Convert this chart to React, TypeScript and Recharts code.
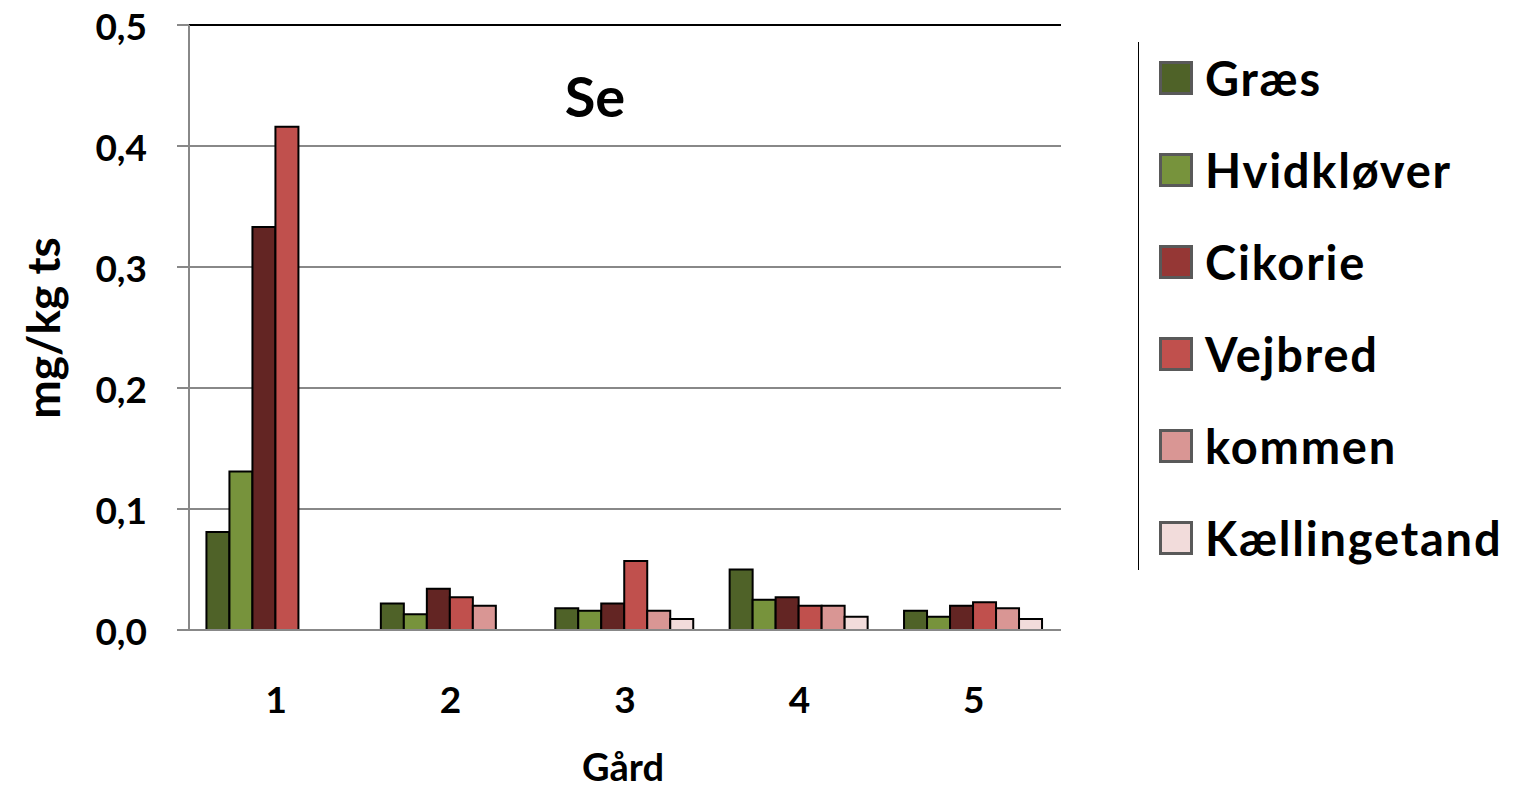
import React from 'react';
import { BarChart, Bar, XAxis, YAxis, CartesianGrid, ReferenceLine, Legend } from 'recharts';

const categories = ['1', '2', '3', '4', '5'];
const graes = [0.081, 0.022, 0.018, 0.05, 0.016];
const hvidklover = [0.131, 0.013, 0.016, 0.025, 0.011];
const cikorie = [0.333, 0.034, 0.022, 0.027, 0.02];
const vejbred = [0.416, 0.027, 0.057, 0.02, 0.023];
const kommen = [null, 0.02, 0.016, 0.02, 0.018];
const kaellingetand = [null, null, 0.009, 0.011, 0.009];
const yTicks = [0, 0.1, 0.2, 0.3, 0.4, 0.5];

const seriesDefs = [
  { key: 'graes', name: 'Græs', values: graes, fill: '#4F6228', legend: '#4F6228' },
  { key: 'hvidklover', name: 'Hvidkløver', values: hvidklover, fill: '#77933C', legend: '#77933C' },
  { key: 'cikorie', name: 'Cikorie', values: cikorie, fill: '#632523', legend: '#953735' },
  { key: 'vejbred', name: 'Vejbred', values: vejbred, fill: '#C0504D', legend: '#C0504D' },
  { key: 'kommen', name: 'kommen', values: kommen, fill: '#D99694', legend: '#D99694' },
  { key: 'kaellingetand', name: 'Kællingetand', values: kaellingetand, fill: '#F2DCDB', legend: '#F2DCDB' },
];

const data = categories.map((c, i) => {
  const row: any = { name: c };
  seriesDefs.forEach((s) => { row[s.key] = s.values[i]; });
  return row;
});

const FONT = 'Lato, "Open Sans", sans-serif';

const LegendContent = () => (
  <div style={{ position: 'relative', width: 370, height: 560, fontFamily: FONT }}>
    <div style={{ position: 'absolute', left: 0, top: 10, width: 1, height: 528, background: '#000' }} />
    {seriesDefs.map((s, i) => (
      <div key={s.key} style={{ position: 'absolute', left: 21, top: i * 92, height: 92, display: 'flex', alignItems: 'center' }}>
        <div style={{ width: 28, height: 28, background: s.legend, border: '3px solid #595959', boxSizing: 'content-box' }} />
        <span style={{ marginLeft: 12, fontSize: 47, fontWeight: 700, letterSpacing: 1.8, color: '#000', whiteSpace: 'nowrap' }}>{s.name}</span>
      </div>
    ))}
  </div>
);

const XTick = (props: any) => {
  const { x, y, payload } = props;
  return (
    <text x={x} y={y + 68} textAnchor="middle" dominantBaseline="central" fontFamily={FONT} fontWeight={700} fontSize={37} fill="#000">
      {payload.value}
    </text>
  );
};

const YTick = (props: any) => {
  const { x, y, payload } = props;
  return (
    <text x={x} y={y} textAnchor="end" dominantBaseline="central" fontFamily={FONT} fontWeight={700} fontSize={37} fill="#000">
      {Number(payload.value).toFixed(1).replace('.', ',')}
    </text>
  );
};

export default function App() {
  return (
    <div style={{ position: 'absolute', left: 0, top: 0, width: 1519, height: 788, overflow: 'hidden' }}>
      <BarChart
        width={1519}
        height={788}
        data={data}
        margin={{ top: 25, right: 458, left: 0, bottom: 0 }}
        barCategoryGap="10%"
        barGap={0}
      >
        <CartesianGrid vertical={false} stroke="#888888" strokeWidth={2} />
        <XAxis
          dataKey="name"
          height={158}
          axisLine={{ stroke: '#888888', strokeWidth: 2 }}
          tickLine={false}
          tickSize={0}
          tickMargin={0}
          tick={<XTick />}
          label={{
            content: () => (
              <text x={623} y={766} textAnchor="middle" dominantBaseline="central" fontFamily={FONT} fontWeight={700} fontSize={38} fill="#000">
                Gård
              </text>
            ),
          }}
        />
        <YAxis
          width={189}
          domain={[0, 0.5]}
          ticks={yTicks}
          interval={0}
          axisLine={{ stroke: '#888888', strokeWidth: 2 }}
          tickLine={{ stroke: '#888888', strokeWidth: 2 }}
          tickSize={12}
          tickMargin={30}
          tick={<YTick />}
          label={{
            content: () => (
              <text x={42} y={328} textAnchor="middle" dominantBaseline="central" transform="rotate(-90 42 328)" fontFamily={FONT} fontWeight={700} fontSize={46} fill="#000">
                mg/kg ts
              </text>
            ),
          }}
        />
        <YAxis
          yAxisId="right"
          orientation="right"
          width={0}
          domain={[0, 0.5]}
          tick={false}
          tickLine={false}
          axisLine={{ stroke: '#000000', strokeWidth: 2 }}
        />
        <ReferenceLine y={0.5} stroke="#000000" strokeWidth={2} />
        {seriesDefs.map((s) => (
          <Bar key={s.key} dataKey={s.key} name={s.name} fill={s.fill} stroke="#000000" strokeWidth={2} isAnimationActive={false} />
        ))}
        <Legend
          content={<LegendContent />}
          wrapperStyle={{ position: 'absolute', left: 1138, top: 32, width: 0, height: 0, overflow: 'visible' }}
        />
      </BarChart>
      <div style={{ position: 'absolute', left: 595, top: 96, transform: 'translate(-50%, -50%)', fontFamily: FONT, fontWeight: 700, fontSize: 56, color: '#000', lineHeight: 1 }}>
        Se
      </div>
    </div>
  );
}
